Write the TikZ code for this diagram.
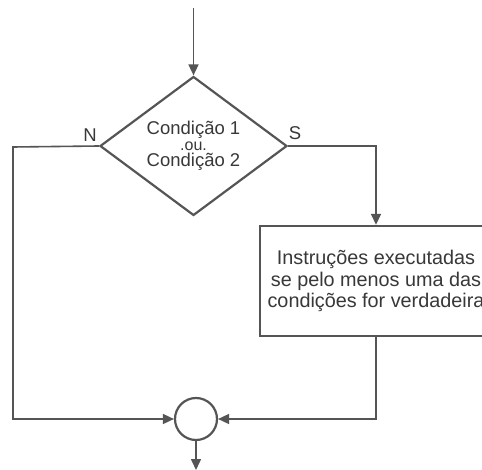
\documentclass[tikz,border=0pt]{standalone}
\usepackage{fontspec}
\setmainfont{Liberation Sans}
\usetikzlibrary{shapes.geometric,arrows.meta}
\definecolor{ink}{HTML}{555555}
\definecolor{txt}{HTML}{383838}
\begin{document}
\begin{tikzpicture}[x=1pt,y=-1pt,
  flow/.style={-{Triangle[length=11pt,width=10pt]}, draw=ink, line width=1.6pt},
  dec/.style={diamond, draw=ink, line width=2.2pt, minimum width=187pt, minimum height=139pt,
    inner sep=0pt, aspect=1.35, text=txt, align=center, font=\fontsize{18.5}{16}\selectfont},
  instbox/.style={rectangle, draw=ink, line width=2.4pt, minimum width=232pt, minimum height=110pt,
    inner sep=0pt, text=txt, align=center, font=\fontsize{19.8}{21.5}\selectfont},
  joinpt/.style={circle, draw=ink, line width=2.2pt, minimum size=42pt, inner sep=0pt},
  lbl/.style={text=txt, font=\fontsize{18.5}{18}\selectfont, inner sep=0pt}]
\clip (0,0) rectangle (482,470);
\fill[white] (0,0) rectangle (482,470);
\node[dec] (d) at (193.5,146) {Condição 1\\{\fontsize{16}{16}\selectfont .ou.}\\Condição 2};
\node[instbox] (b) at (376,281) {Instruções executadas\\se pelo menos uma das\\condições for verdadeira};
\node[joinpt] (j) at (196,419) {};
\coordinate (top) at (193.5,8);
\coordinate (bot) at (196,470);
\coordinate (lx) at (13,147);
\node[lbl] (n) at (90,135) {N};
\node[lbl] (s) at (295,133) {S};
\draw[flow] (top) -- (d.north);
\draw[flow] (d.west) -- (lx) |- (j.west);
\draw[flow] (d.east) -| (b.north);
\draw[flow] (b.south) |- (j.east);
\draw[flow] (j.south) -- (bot);
\end{tikzpicture}
\end{document}
